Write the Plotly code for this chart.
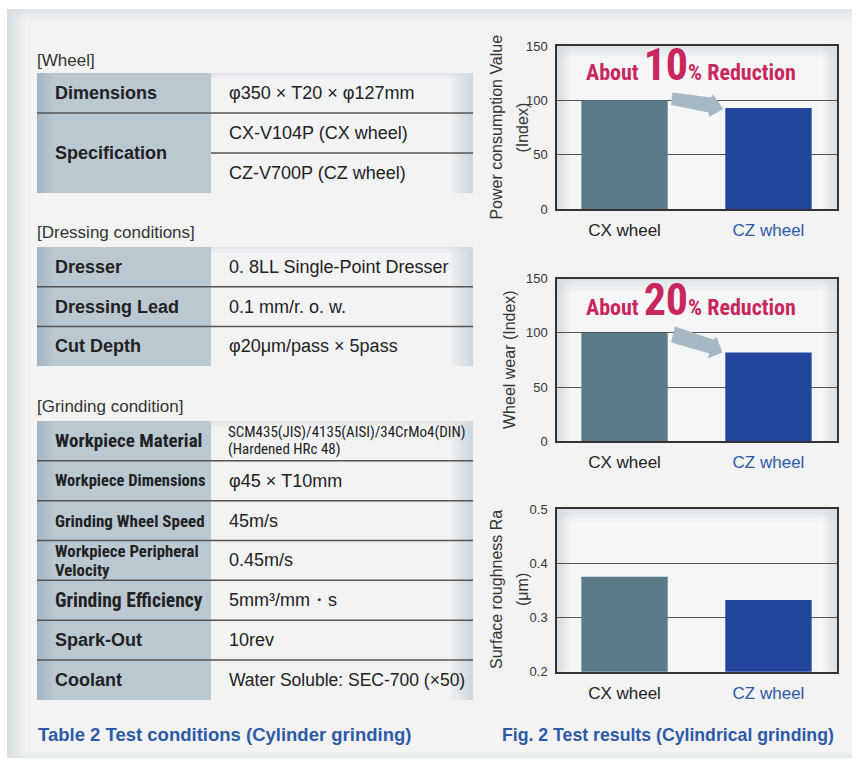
import plotly.graph_objects as go

W, H = 857, 764
# vertical calibration of the capture (picture y = A * page y + B)
CAP_A, CAP_B = 0.9806, 6.9

# ---------------- data ----------------
categories = ["CX wheel", "CZ wheel"]
power_index = [100, 93]
wear_index = [100, 82]
roughness_ra = [0.375, 0.332]

reduction_labels = ["10", "20"]

wheel_labels = ["Dimensions", "Specification"]
wheel_values = [["φ350 × T20 × φ127mm"], ["CX-V104P (CX wheel)", "CZ-V700P (CZ wheel)"]]
dress_labels = ["Dresser", "Dressing Lead", "Cut Depth"]
dress_values = [["0. 8LL Single-Point Dresser"], ["0.1 mm/r. o. w."], ["φ20μm/pass × 5pass"]]
grind_labels = ["Workpiece Material", "Workpiece Dimensions", "Grinding Wheel Speed",
                "Workpiece Peripheral<br>Velocity", "Grinding Efficiency", "Spark-Out", "Coolant"]
grind_values = [["SCM435(JIS)/4135(AISI)/34CrMo4(DIN)<br>(Hardened HRc 48)"], ["φ45 × T10mm"], ["45m/s"],
                ["0.45m/s"], ["5mm³/mm・s"], ["10rev"], ["Water Soluble: SEC-700 (×50)"]]

# ---------------- helpers ----------------
def px(x):
    return x / W

def py(y):
    return 1 - ((y - CAP_B) / CAP_A) / H

SANS = "Liberation Sans, Arial, sans-serif"
NARROW = "Roboto Condensed, Liberation Sans Narrow, Arial Narrow, DejaVu Sans Condensed, sans-serif"
BLUE = "#2c5aa8"
CX_COL = "#5b7b88"
CZ_COL = "#21469b"

shapes = []
annotations = []

def rect(x0, y0, x1, y1, fill, layer="below", opacity=1.0):
    shapes.append(dict(type="rect", xref="paper", yref="paper",
                       x0=px(x0), x1=px(x1), y0=py(y1), y1=py(y0),
                       fillcolor=fill, line=dict(width=0), layer=layer, opacity=opacity))

def hline(x0, x1, y, color="#555", width=1.5):
    shapes.append(dict(type="line", xref="paper", yref="paper",
                       x0=px(x0), x1=px(x1), y0=py(y), y1=py(y),
                       line=dict(color=color, width=width), layer="below"))

def edge_grad(x0, y0, x1, y1, side, color, size, n=6, maxop=0.9):
    step = size / n
    for i in range(n):
        op = maxop * (1 - i / n)
        if side == "left":
            rect(x0 + i * step, y0, x0 + (i + 1) * step, y1, color, opacity=op)
        elif side == "right":
            rect(x1 - (i + 1) * step, y0, x1 - i * step, y1, color, opacity=op)
        elif side == "top":
            rect(x0, y0 + i * step, x1, y0 + (i + 1) * step, color, opacity=op)
        else:
            rect(x0, y1 - (i + 1) * step, x1, y1 - i * step, color, opacity=op)

def text(x, y, s, size=17, color="#222", family=SANS, xanchor="left", yanchor="middle", angle=0):
    annotations.append(dict(x=px(x), y=py(y), xref="paper", yref="paper", text=s,
                            showarrow=False, xanchor=xanchor, yanchor=yanchor, textangle=angle,
                            borderpad=0, font=dict(size=size, color=color, family=family)))

# ---------------- panel background ----------------
rect(7, 9, 852, 758, "#f3f3f3")
edge_grad(7, 9, 852, 758, "left", "#cfd9e0", 18, n=9, maxop=0.85)
edge_grad(7, 9, 852, 758, "top", "#d9e1e6", 12, n=6, maxop=0.7)
edge_grad(7, 9, 852, 758, "bottom", "#dde3e7", 6, n=3, maxop=0.6)

# ---------------- tables ----------------
TX0, TXS, TX1 = 37, 211, 473

def draw_table(section, label_y, top, labels, values, row_h, label_family, label_sizes, value_sizes):
    text(TX0 - 1, label_y, section, size=17, color="#333")
    nrows = sum(len(v) for v in values)
    bottom = top + nrows * row_h
    rect(TX0, top, TXS, bottom, "#bac8d2")
    edge_grad(TX0, top, TXS, bottom, "left", "#9fb2bf", 16, n=8, maxop=0.8)
    rect(TXS, top, TX1, bottom, "#f2f3f4")
    edge_grad(TXS, top, TX1, bottom, "right", "#c5d2db", 22, n=8, maxop=0.9)
    edge_grad(TXS, top, TX1, bottom, "top", "#d5dde3", 6, n=3, maxop=0.5)
    r = 0
    for i, (lab, vals) in enumerate(zip(labels, values)):
        y0 = top + r * row_h
        y1 = y0 + len(vals) * row_h
        fam = label_family[i] if isinstance(label_family, list) else label_family
        lsz = label_sizes[i] if isinstance(label_sizes, list) else label_sizes
        if "<br>" in lab:
            parts = lab.split("<br>")
            text(54, (y0 + y1) / 2 - 9.5, "<b>%s</b>" % parts[0], size=lsz, color="#222", family=fam)
            text(54, (y0 + y1) / 2 + 9.5, "<b>%s</b>" % parts[1], size=lsz, color="#222", family=fam)
        else:
            text(54, (y0 + y1) / 2, "<b>%s</b>" % lab, size=lsz, color="#222", family=fam)
        for j, v in enumerate(vals):
            vy0 = y0 + j * row_h
            vsz = value_sizes[i] if isinstance(value_sizes, list) else value_sizes
            if "<br>" in v:
                parts = v.split("<br>")
                text(227, vy0 + row_h / 2 - 9, parts[0], size=vsz, color="#222", family=NARROW)
                text(227, vy0 + row_h / 2 + 8.5, parts[1], size=vsz, color="#222", family=NARROW)
            else:
                text(228, vy0 + row_h / 2, v, size=vsz, color="#222")
            if j > 0:
                hline(TXS, TX1, vy0)
        if i > 0:
            hline(TX0, TX1, y0)
        r += len(vals)

draw_table("[Wheel]", 60, 73, wheel_labels, wheel_values, 40, SANS, 18, 18)
draw_table("[Dressing conditions]", 232, 247, dress_labels, dress_values, 39.7, SANS, 18, 18)
draw_table("[Grinding condition]", 406, 421, grind_labels, grind_values, 39.85,
           [NARROW, NARROW, NARROW, NARROW, NARROW, SANS, SANS],
           [19, 16.5, 17, 16.8, 19.6, 18, 18],
           [15, 18, 18, 18, 18, 18, 17.5])

text(37, 735, "<b>Table 2 Test conditions (Cylinder grinding)</b>", size=18.5, color=BLUE)
text(668, 735, "<b>Fig. 2 Test results (Cylindrical grinding)</b>", size=17.7, color=BLUE, xanchor="center")

# ---------------- charts ----------------
PX0, PX1 = 557, 837
plots = [(46, 209), (278.7, 441.3), (509, 671.7)]
series = [power_index, wear_index, roughness_ra]
yranges = [[0, 150], [0, 150], [0.2, 0.5]]
dticks = [50, 50, 0.1]

for (t, b) in plots:
    rect(PX0, t, PX1, b, "#f5f6f7")
    edge_grad(PX0, t, PX1, b, "left", "#cfd9e0", 14, n=7, maxop=0.8)
    edge_grad(PX0, t, PX1, b, "right", "#cfd9e0", 14, n=7, maxop=0.8)
    edge_grad(PX0, t, PX1, b, "top", "#d3dce2", 12, n=6, maxop=0.7)

fig = go.Figure()
layout_axes = {}
for k, ((t, b), vals, yr, dt) in enumerate(zip(plots, series, yranges, dticks)):
    n = "" if k == 0 else str(k + 1)
    fig.add_trace(go.Bar(x=categories, y=vals, xaxis="x" + n, yaxis="y" + n,
                         marker=dict(color=[CX_COL, CZ_COL], line=dict(width=0)),
                         width=0.6, showlegend=False, hoverinfo="x+y"))
    layout_axes["xaxis" + n] = dict(
        domain=[px(PX0), px(PX1)], anchor="y" + n, type="category",
        range=[-0.469, 1.476], showline=True, mirror=True, linecolor="#333", linewidth=1.5,
        showgrid=False, ticks="", tickmode="array", tickvals=categories,
        ticktext=[categories[0], "<span style='color:%s'>%s</span>" % (BLUE, categories[1])],
        tickfont=dict(size=17, color="#222", family=SANS), ticklabelstandoff=5, fixedrange=True)
    layout_axes["yaxis" + n] = dict(
        domain=[py(b), py(t)], anchor="x" + n, range=yr, dtick=dt, tick0=yr[0],
        tickformat=".1f" if dt < 1 else "d",
        showline=True, mirror=True, linecolor="#333", linewidth=1.5,
        showgrid=True, gridcolor="#555", gridwidth=1.2, zeroline=False, ticks="",
        tickfont=dict(size=13, color="#333", family=SANS), ticklabelstandoff=5, fixedrange=True)

# axis titles
text(497, 127.5, "Power consumption Value", size=16, color="#333", xanchor="center", angle=-90)
text(523, 127.5, "(Index)", size=16, color="#333", xanchor="center", angle=-90)
text(509, 360, "Wheel wear (Index)", size=16, color="#333", xanchor="center", angle=-90)
text(497, 590, "Surface roughness Ra", size=16, color="#333", xanchor="center", angle=-90)
text(523, 590, "(μm)", size=16, color="#333", xanchor="center", angle=-90)

# reduction callouts
RED = "#c8275d"
for lab, base in zip(reduction_labels, [83, 318]):
    text(585, base + 9,
         "<b>About <span style='font-size:44px'>" + lab + "</span>% Reduction</b>",
         size=22, color=RED, family=NARROW, yanchor="bottom")

# arrows
def arrow(pts):
    d = "M " + " L ".join("%f %f" % (px(x), py(y)) for x, y in pts) + " Z"
    shapes.append(dict(type="path", xref="paper", yref="paper", path=d,
                       fillcolor="#a5b9c4", line=dict(width=0), layer="above"))

arrow([(672.5, 92.5), (711, 97.5), (713, 94.5), (723.5, 109), (709, 117), (708.5, 112.5), (671, 105)])
arrow([(675, 326.5), (713, 339.5), (716.5, 337), (722.5, 352.5), (707.5, 358.5), (709.5, 353.5), (671, 342.5)])

fig.update_layout(
    width=W, height=H, margin=dict(l=0, r=0, t=0, b=0),
    paper_bgcolor="white", plot_bgcolor="rgba(0,0,0,0)",
    shapes=shapes, annotations=annotations, bargap=0.4,
    **layout_axes)

fig.write_html(
    "out.html",
    config={"displayModeBar": False},
    post_script=("document.documentElement.style.margin='0';"
                 "document.body.style.margin='0';document.body.style.padding='0';"
                 "document.body.style.overflow='hidden';"))
